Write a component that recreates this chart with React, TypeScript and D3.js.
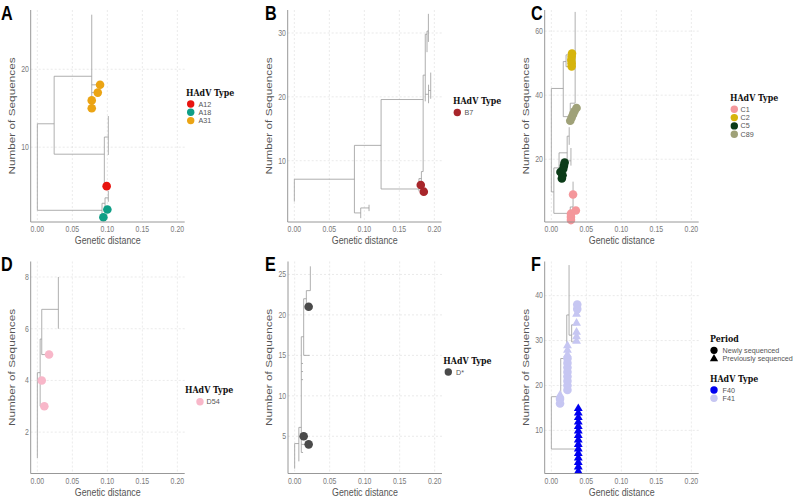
import React from "react";
import * as d3 from "d3";

type Seg = [number, number, number, number];
type Tip = { d: number; n: number; t: string; s?: "dot" | "tri" };

// ---------- shared axis data ----------
const xTickValues = [0, 0.05, 0.1, 0.15, 0.2];
const xTickLabels = ["0.00", "0.05", "0.10", "0.15", "0.20"];

// ---------- panel A ----------
const yTicksA = [10, 20];
const tipCountA = 27;
const typesA = ["A12", "A18", "A31"];
const coloursA = ["#e8140f", "#0f9e86", "#eba414"];
const treeA: Seg[] = [
  [0, 1.9, 0, 13], [0, 13, 0.024, 13], [0.024, 9.1, 0.024, 19.1],
  [0.024, 19.1, 0.0777, 19.1], [0.0777, 15, 0.0777, 27],
  [0.0777, 17, 0.0863, 17], [0.0777, 18, 0.0896, 18],
  [0.024, 9.1, 0.0957, 9.1], [0.0957, 5, 0.0957, 11.3], [0.0957, 5, 0.099, 5],
  [0.0957, 11.3, 0.1014, 11.3], [0.1014, 9, 0.1014, 14],
  [0, 1.9, 0.0924, 1.9], [0.0924, 1, 0.0924, 2.8], [0.0924, 2.8, 0.0967, 2.8],
  [0.0967, 2, 0.0967, 3.5], [0.0967, 2, 0.1, 2], [0.0967, 3.5, 0.1014, 3.5],
  [0.1014, 3, 0.1014, 4.4],
];
const tipsA: Tip[] = [
  { d: 0.099, n: 5, t: "A12" },
  { d: 0.0943, n: 1, t: "A18" }, { d: 0.1, n: 2, t: "A18" },
  { d: 0.0777, n: 15, t: "A31" }, { d: 0.0777, n: 16, t: "A31" },
  { d: 0.0863, n: 17, t: "A31" }, { d: 0.0896, n: 18, t: "A31" },
];

// ---------- panel B ----------
const yTicksB = [10, 20, 30];
const tipCountB = 33;
const typesB = ["B7"];
const coloursB = ["#a8262b"];
const treeB: Seg[] = [
  [0, 3.6, 0, 7.1], [0, 7.1, 0.0858, 7.1], [0.0858, 1.82, 0.0858, 12.4],
  [0.0858, 1.82, 0.0948, 1.82], [0.0948, 1.0, 0.0948, 2.6], [0.0948, 2.6, 0.1067, 2.6],
  [0.1067, 2.1, 0.1067, 3.1],
  [0.0858, 12.4, 0.1239, 12.4], [0.1239, 5.57, 0.1239, 19.58],
  [0.1239, 5.57, 0.178, 5.57], [0.178, 5.2, 0.178, 7.2], [0.178, 7.2, 0.1815, 7.2],
  [0.1815, 6.3, 0.1815, 8.3], [0.1815, 8.3, 0.184, 8.3],
  [0.1239, 19.58, 0.184, 19.58], [0.184, 8.3, 0.184, 23.4],
  [0.184, 23.4, 0.187, 23.4], [0.187, 19.3, 0.187, 29.8],
  [0.187, 29.8, 0.1895, 29.8], [0.1895, 27, 0.1895, 30.3],
  [0.1895, 30.3, 0.1915, 30.3], [0.1915, 28.6, 0.1915, 33],
  [0.187, 20.4, 0.1917, 20.4], [0.1917, 19, 0.1917, 21.9],
  [0.1917, 21, 0.1948, 21], [0.1948, 19.7, 0.1948, 23.8],
];
const tipsB: Tip[] = [
  { d: 0.1806, n: 6.2, t: "B7" }, { d: 0.1849, n: 5.15, t: "B7" },
];

// ---------- panel C ----------
const yTicksC = [20, 40, 60];
const tipCountC = 66;
const typesC = ["C1", "C2", "C5", "C89"];
const coloursC = ["#f4979b", "#d6b40c", "#0b3b18", "#9fa178"];
const treeC: Seg[] = [
  [0, 9.8, 0, 42.1], [0, 42.1, 0.017, 42.1], [0.017, 33.3, 0.017, 50.5],
  [0.017, 50.5, 0.021, 50.5], [0.021, 48.9, 0.021, 52.6],
  [0.021, 52.6, 0.028, 52.6], [0.021, 48.9, 0.028, 48.9],
  [0.017, 33.3, 0.027, 33.3], [0.027, 31.5, 0.027, 37.5],
  [0.027, 37.5, 0.034, 37.5], [0.034, 37.5, 0.034, 66],
  [0, 9.8, 0.0036, 9.8], [0.0036, 3.1, 0.0036, 17.3],
  [0.0036, 3.1, 0.027, 3.1], [0.027, 1, 0.027, 5.1], [0.027, 5.1, 0.031, 5.1],
  [0.031, 4, 0.031, 13], [0.031, 4, 0.035, 4],
  [0.0036, 17.3, 0.011, 17.3], [0.011, 14.5, 0.011, 22],
  [0.011, 22, 0.0226, 22], [0.0226, 19.5, 0.0226, 27.2],
  [0.0226, 27.2, 0.0255, 27.2], [0.0255, 24.5, 0.0255, 30],
  [0.0226, 19.5, 0.028, 19.5], [0.028, 18, 0.028, 23.5],
];
const tipsC: Tip[] = [
  { d: 0.028, n: 1, t: "C1" }, { d: 0.028, n: 2, t: "C1" }, { d: 0.028, n: 3, t: "C1" },
  { d: 0.035, n: 4, t: "C1" }, { d: 0.031, n: 9, t: "C1" },
  { d: 0.029, n: 49, t: "C2" }, { d: 0.029, n: 50, t: "C2" }, { d: 0.0285, n: 51, t: "C2" },
  { d: 0.029, n: 52, t: "C2" }, { d: 0.0295, n: 53, t: "C2" },
  { d: 0.015, n: 14, t: "C5" }, { d: 0.016, n: 15, t: "C5" }, { d: 0.013, n: 16, t: "C5" },
  { d: 0.017, n: 17, t: "C5" }, { d: 0.018, n: 18, t: "C5" }, { d: 0.019, n: 19, t: "C5" },
  { d: 0.027, n: 32, t: "C89" }, { d: 0.029, n: 33, t: "C89" }, { d: 0.031, n: 34, t: "C89" },
  { d: 0.033, n: 35, t: "C89" }, { d: 0.036, n: 36, t: "C89" },
];

// ---------- panel D ----------
const yTicksD = [2, 4, 6, 8];
const tipCountD = 8;
const typesD = ["D54"];
const coloursD = ["#f8b7c9"];
const treeD: Seg[] = [
  [0, 1, 0, 4.3], [0, 4.3, 0.004, 4.3], [0.004, 3, 0.004, 5.6],
  [0.004, 3, 0.01, 3], [0.004, 4, 0.0063, 4], [0.004, 5.6, 0.0063, 5.6],
  [0.0063, 5, 0.0063, 6.75], [0.0063, 5, 0.0167, 5],
  [0.0063, 6.75, 0.03, 6.75], [0.03, 6, 0.03, 8],
];
const tipsD: Tip[] = [
  { d: 0.01, n: 3, t: "D54" }, { d: 0.0063, n: 4, t: "D54" }, { d: 0.0167, n: 5, t: "D54" },
];

// ---------- panel E ----------
const yTicksE = [5, 10, 15, 20, 25];
const tipCountE = 26;
const typesE = ["D*"];
const coloursE = ["#4a4a4a"];
const treeE: Seg[] = [
  [0, 1, 0, 4.1], [0, 4.1, 0.006, 4.1], [0.006, 1.9, 0.006, 6.1],
  [0.006, 6.1, 0.0095, 6.1], [0.0095, 3, 0.0095, 17.3],
  [0.0095, 3, 0.012, 3], [0.0095, 5, 0.0129, 5], [0.0095, 4, 0.02, 4],
  [0.0095, 12, 0.012, 12], [0.0095, 13, 0.012, 13], [0.0095, 14, 0.012, 14],
  [0.0095, 17.3, 0.0129, 17.3], [0.0129, 15, 0.0129, 22], [0.0129, 15, 0.0214, 15],
  [0.0129, 22, 0.0167, 22], [0.0167, 21, 0.0167, 23], [0.0167, 21, 0.02, 21],
  [0.0167, 23, 0.0224, 23], [0.0224, 23, 0.0224, 26],
];
const tipsE: Tip[] = [
  { d: 0.0129, n: 5, t: "D*" }, { d: 0.02, n: 4, t: "D*" }, { d: 0.02, n: 21, t: "D*" },
];

// ---------- panel F ----------
const yTicksF = [10, 20, 30, 40];
const tipCountF = 47;
const typesF = ["F40", "F41"];
const coloursF = ["#0000f0", "#c6c6f2"];
const periods = ["Newly sequenced", "Previously sequenced"];
const treeF: Seg[] = [
  [0, 5.85, 0, 17.5], [0, 5.85, 0.0385, 5.85], [0.0385, 1, 0.0385, 15],
  [0, 17.5, 0.0134, 17.5], [0.0134, 16, 0.0134, 26], [0.0134, 26, 0.022, 26],
  [0.022, 19, 0.022, 35.7], [0.022, 35.7, 0.0253, 35.7], [0.0253, 31.2, 0.0253, 46.8],
  [0.0253, 31.2, 0.029, 31.2], [0.029, 29.7, 0.029, 33.5],
  [0.029, 29.7, 0.034, 29.7], [0.029, 33.5, 0.036, 33.5],
];
const tipsF: Tip[] = [
  { d: 0.0385, n: 1, t: "F40", s: "tri" }, { d: 0.0385, n: 2, t: "F40", s: "tri" },
  { d: 0.0385, n: 3, t: "F40", s: "tri" }, { d: 0.0385, n: 4, t: "F40", s: "tri" },
  { d: 0.0385, n: 5, t: "F40", s: "tri" }, { d: 0.0385, n: 6, t: "F40", s: "tri" },
  { d: 0.0385, n: 7, t: "F40", s: "tri" }, { d: 0.0385, n: 8, t: "F40", s: "tri" },
  { d: 0.0385, n: 9, t: "F40", s: "tri" }, { d: 0.0385, n: 10, t: "F40", s: "tri" },
  { d: 0.0385, n: 11, t: "F40", s: "tri" }, { d: 0.0385, n: 12, t: "F40", s: "tri" },
  { d: 0.0385, n: 13, t: "F40", s: "tri" }, { d: 0.0385, n: 14, t: "F40", s: "tri" },
  { d: 0.0385, n: 15, t: "F40", s: "tri" },
  { d: 0.0124, n: 16, t: "F41", s: "dot" }, { d: 0.0124, n: 17, t: "F41", s: "dot" },
  { d: 0.0124, n: 18, t: "F41", s: "tri" },
  { d: 0.023, n: 19, t: "F41", s: "dot" }, { d: 0.023, n: 20, t: "F41", s: "dot" },
  { d: 0.023, n: 21, t: "F41", s: "dot" }, { d: 0.023, n: 22, t: "F41", s: "dot" },
  { d: 0.023, n: 23, t: "F41", s: "dot" }, { d: 0.023, n: 24, t: "F41", s: "dot" },
  { d: 0.023, n: 25, t: "F41", s: "dot" }, { d: 0.023, n: 26, t: "F41", s: "dot" },
  { d: 0.023, n: 27, t: "F41", s: "tri" }, { d: 0.023, n: 28, t: "F41", s: "tri" },
  { d: 0.023, n: 29, t: "F41", s: "tri" },
  { d: 0.036, n: 30, t: "F41", s: "tri" }, { d: 0.036, n: 31, t: "F41", s: "tri" },
  { d: 0.036, n: 32, t: "F41", s: "tri" }, { d: 0.036, n: 34, t: "F41", s: "tri" },
  { d: 0.036, n: 36, t: "F41", s: "tri" }, { d: 0.037, n: 37, t: "F41", s: "dot" },
  { d: 0.037, n: 38, t: "F41", s: "dot" },
];

// ---------- layout ----------
const SANS = "'Liberation Sans', Arial, sans-serif";
const SERIF = "'DejaVu Serif', serif";
const SX = 0.77; // horizontal squash of the source figure's text
const PLOT_W = 154;
const PLOT_H = 212;
const xDomain: [number, number] = [-0.0095, 0.2105];

type PanelCfg = {
  letter: string; left: number; top: number; letterX: number;
  yTicks: number[]; n: number; tree: Seg[]; tips: Tip[];
  types: string[]; colours: string[];
  legX: number; legY: number; keyX: number; textX: number; itemY0: number;
  period?: boolean;
};

const panels: PanelCfg[] = [
  { letter: "A", left: 30.7, top: 10, letterX: 1, yTicks: yTicksA, n: tipCountA, tree: treeA, tips: tipsA,
    types: typesA, colours: coloursA, legX: 186, legY: 93, keyX: 190.7, textX: 198.5, itemY0: 104 },
  { letter: "B", left: 287.7, top: 10, letterX: 265, yTicks: yTicksB, n: tipCountB, tree: treeB, tips: tipsB,
    types: typesB, colours: coloursB, legX: 453, legY: 101, keyX: 457.3, textX: 464.5, itemY0: 112.5 },
  { letter: "C", left: 544.7, top: 10, letterX: 531, yTicks: yTicksC, n: tipCountC, tree: treeC, tips: tipsC,
    types: typesC, colours: coloursC, legX: 730, legY: 97.5, keyX: 734.3, textX: 740.5, itemY0: 109.3 },
  { letter: "D", left: 30.7, top: 261.5, letterX: 1, yTicks: yTicksD, n: tipCountD, tree: treeD, tips: tipsD,
    types: typesD, colours: coloursD, legX: 185, legY: 390, keyX: 200, textX: 206.5, itemY0: 401.7 },
  { letter: "E", left: 288, top: 261.5, letterX: 265, yTicks: yTicksE, n: tipCountE, tree: treeE, tips: tipsE,
    types: typesE, colours: coloursE, legX: 443.3, legY: 361, keyX: 448.3, textX: 456, itemY0: 372 },
  { letter: "F", left: 544.7, top: 261.5, letterX: 531, yTicks: yTicksF, n: tipCountF, tree: treeF, tips: tipsF,
    types: typesF, colours: coloursF, legX: 710, legY: 378.3, keyX: 714, textX: 722.5, itemY0: 390, period: true },
];

const triPath = d3.symbol().type(d3.symbolTriangle).size(34)() as string;
const triKey = d3.symbol().type(d3.symbolTriangle).size(30)() as string;

function Txt(props: {
  x: number; y: number; size: number; anchor?: string; fill?: string; family?: string;
  weight?: string; rotate?: boolean; baseline?: string; sx?: number; children: React.ReactNode;
}) {
  const { x, y, size, anchor = "start", fill = "#555", family = SANS, weight = "normal", rotate, baseline = "central", sx = SX } = props;
  return (
    <text transform={`translate(${x},${y}) scale(${sx},1)${rotate ? " rotate(-90)" : ""}`}
      textAnchor={anchor} dominantBaseline={baseline} fontFamily={family} fontWeight={weight}
      fontSize={size} fill={fill}>{props.children}</text>
  );
}

function Panel({ cfg }: { cfg: PanelCfg }) {
  const x = d3.scaleLinear().domain(xDomain).range([cfg.left, cfg.left + PLOT_W]);
  const y = d3.scaleLinear().domain([0.4, cfg.n + 0.6]).range([cfg.top + PLOT_H, cfg.top]);
  const colour = d3.scaleOrdinal<string, string>().domain(cfg.types).range(cfg.colours);
  const bottom = cfg.top + PLOT_H;
  const right = cfg.left + PLOT_W;
  const grid = { stroke: "#dcdcdc", strokeWidth: 0.6, strokeDasharray: "2,2" };
  return (
    <g>
      <Txt x={cfg.letterX} y={cfg.top + 9.5} size={21} weight="bold" fill="#000" baseline="auto">{cfg.letter}</Txt>
      {xTickValues.map((v) => (
        <line key={"gx" + v} x1={x(v)} x2={x(v)} y1={cfg.top} y2={bottom} {...grid} />
      ))}
      {cfg.yTicks.map((v) => (
        <line key={"gy" + v} x1={cfg.left} x2={right} y1={y(v)} y2={y(v)} {...grid} />
      ))}
      <g stroke="#9a9a9a" strokeWidth={0.8} fill="none">
        {cfg.tree.map((s, i) => (
          <line key={i} x1={x(s[0])} y1={y(s[1])} x2={x(s[2])} y2={y(s[3])} />
        ))}
      </g>
      {cfg.tips.map((t, i) =>
        t.s === "tri" ? (
          <path key={i} d={triPath} transform={`translate(${x(t.d)},${y(t.n) + 0.6})`} fill={colour(t.t)} />
        ) : (
          <circle key={i} cx={x(t.d)} cy={y(t.n)} r={4.3} fill={colour(t.t)} />
        )
      )}
      <line x1={cfg.left} x2={cfg.left} y1={cfg.top} y2={bottom} stroke="#8c8c8c" strokeWidth={0.9} />
      <line x1={cfg.left} x2={right} y1={bottom} y2={bottom} stroke="#8c8c8c" strokeWidth={0.9} />
      {xTickValues.map((v, i) => (
        <Txt key={"tx" + v} x={x(v)} y={bottom + 7.5} size={9} anchor="middle" fill="#7a7a7a">{xTickLabels[i]}</Txt>
      ))}
      {cfg.yTicks.map((v) => (
        <Txt key={"ty" + v} x={cfg.left - 1.8} y={y(v)} size={9} anchor="end" fill="#7a7a7a">{String(v)}</Txt>
      ))}
      <Txt x={(cfg.left + right) / 2} y={bottom + 18.5} size={11.5} anchor="middle" fill="#555">Genetic distance</Txt>
      <Txt x={cfg.left - 19} y={cfg.top + PLOT_H / 2} size={11.8} anchor="middle" fill="#555" rotate>Number of Sequences</Txt>
      {cfg.period && (
        <g>
          <Txt x={cfg.legX} y={338.3} size={9.2} sx={0.86} family={SERIF} weight="bold" fill="#111">Period</Txt>
          <circle cx={cfg.keyX} cy={350.3} r={3.6} fill="#000" />
          <Txt x={cfg.textX} y={350.3} size={7.2} sx={1} fill="#555">{periods[0]}</Txt>
          <path d={triKey} transform={`translate(${cfg.keyX},${358.8})`} fill="#000" />
          <Txt x={cfg.textX} y={358.3} size={7.2} sx={1} fill="#555">{periods[1]}</Txt>
        </g>
      )}
      <Txt x={cfg.legX} y={cfg.legY} size={9.2} sx={0.86} family={SERIF} weight="bold" fill="#111">HAdV Type</Txt>
      {cfg.types.map((t, i) => (
        <g key={t}>
          <circle cx={cfg.keyX} cy={cfg.itemY0 + i * 8.3} r={3.7} fill={colour(t)} />
          <Txt x={cfg.textX} y={cfg.itemY0 + i * 8.3} size={7.2} sx={1} fill="#555">{t}</Txt>
        </g>
      ))}
    </g>
  );
}

export default function App() {
  return (
    <svg width={800} height={497} viewBox="0 0 800 497"
      style={{ position: "absolute", left: 0, top: 0, background: "#fff" }}>
      <rect x={0} y={0} width={800} height={497} fill="#fff" />
      {panels.map((p) => (
        <Panel key={p.letter} cfg={p} />
      ))}
    </svg>
  );
}
